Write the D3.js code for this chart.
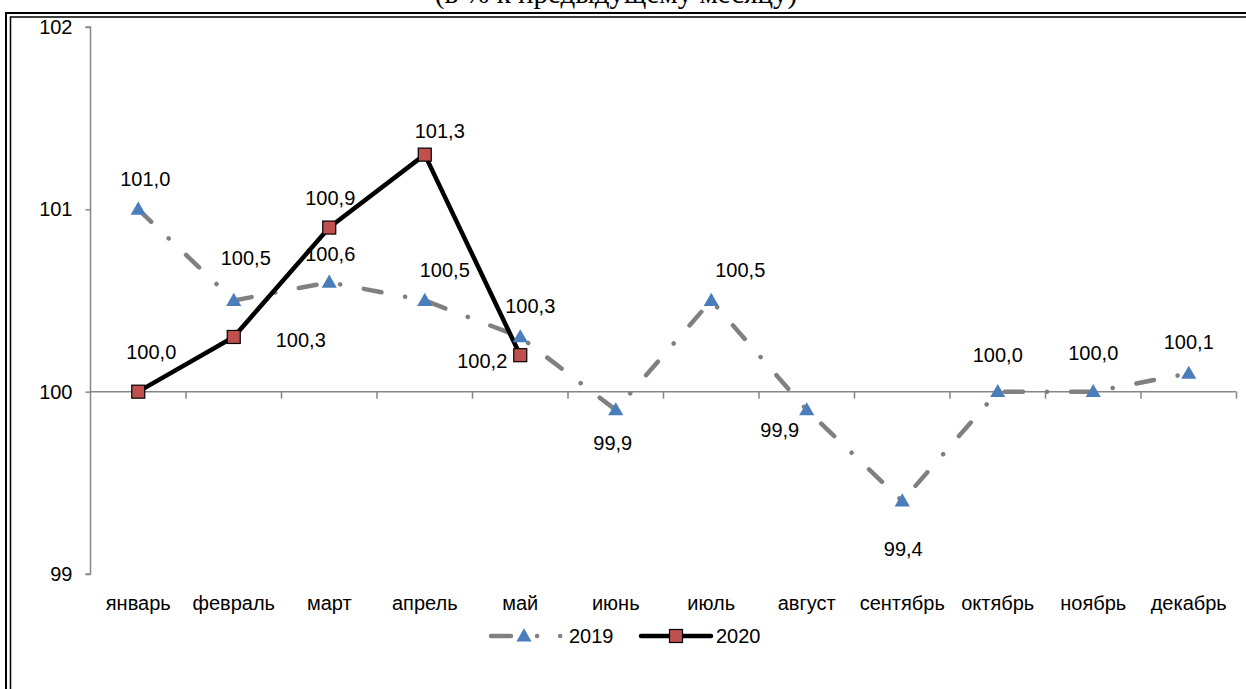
<!DOCTYPE html>
<html>
<head>
<meta charset="utf-8">
<script src="https://cdn.jsdelivr.net/npm/d3@7"></script>
<style>
  body { margin: 0; background: #fff; }
  text { font-family: "Liberation Sans", Arial, sans-serif; }
</style>
</head>
<body>
<svg id="chart" width="1246" height="689"></svg>
<script>
const months = ["январь", "февраль", "март", "апрель", "май", "июнь", "июль", "август", "сентябрь", "октябрь", "ноябрь", "декабрь"];
const values2019 = [101.0, 100.5, 100.6, 100.5, 100.3, 99.9, 100.5, 99.9, 99.4, 100.0, 100.0, 100.1];
const values2020 = [100.0, 100.3, 100.9, 101.3, 100.2];
const yTicks = [99, 100, 101, 102];

// label offsets (px) from each point, hand placed like in the original
const off2019 = [[7, -30], [12, -43], [1, -28], [20, -31], [10, -31], [-3, 33], [29, -31], [-27, 20], [1, 48], [0, -37], [0, -39], [0, -31]];
const off2020 = [[13, -40], [67, 3], [1, -30], [15, -24], [-38, 6]];

const svg = d3.select("#chart");
const fmt = v => v.toFixed(1).replace(".", ",");
const fs = "20px";

// title (cut off at top edge, as in the original)
svg.append("text")
  .attr("x", 616).attr("y", 3)
  .attr("text-anchor", "middle")
  .style("font-family", "'Liberation Serif', 'Times New Roman', serif")
  .style("font-size", "29px")
  .text("(в % к предыдущему месяцу)");

// double frame
svg.append("path").attr("d", "M6,700 V13 H1260").attr("fill", "none").attr("stroke", "#000").attr("stroke-width", 2);
svg.append("path").attr("d", "M10.5,700 V17 H1260").attr("fill", "none").attr("stroke", "#000").attr("stroke-width", 1.5);

const x = d3.scaleBand().domain(months).range([90.5, 1236.5]);
const y = d3.scaleLinear().domain([99, 102]).range([574, 27]);
const cx = m => x(m) + x.bandwidth() / 2;

const axisColor = "#868686";

// y axis
const yAxis = svg.append("g").attr("transform", "translate(90.5,0)")
  .call(d3.axisLeft(y).tickValues(yTicks).tickSize(5).tickPadding(13).tickFormat(d3.format("d")));
yAxis.select(".domain").attr("stroke", axisColor).attr("stroke-width", 1.5).attr("d", `M-5,${y(102)}H0V${y(99)}H-5`);
yAxis.selectAll(".tick line").attr("stroke", axisColor).attr("stroke-width", 1.5);
yAxis.selectAll(".tick text").style("font-size", fs).attr("fill", "#000")
  .style("font-family", "'Liberation Sans', Arial, sans-serif");

// category axis crossing at 100
const xg = svg.append("g");
xg.append("line").attr("x1", 90.5).attr("x2", 1236.5).attr("y1", y(100)).attr("y2", y(100))
  .attr("stroke", axisColor).attr("stroke-width", 1.5);
xg.selectAll("line.tk").data(months).join("line").attr("class", "tk")
  .attr("x1", d => x(d) + x.bandwidth()).attr("x2", d => x(d) + x.bandwidth())
  .attr("y1", y(100)).attr("y2", y(100) + 7)
  .attr("stroke", axisColor).attr("stroke-width", 1.5);
xg.selectAll("text").data(months).join("text")
  .attr("x", cx).attr("y", 603)
  .attr("text-anchor", "middle").attr("dominant-baseline", "central")
  .style("font-size", fs)
  .text(d => d);

const pts2019 = values2019.map((v, i) => [cx(months[i]), y(v)]);
const pts2020 = values2020.map((v, i) => [cx(months[i]), y(v)]);
const line = d3.line();

svg.append("path").attr("d", line(pts2019)).attr("fill", "none")
  .attr("stroke", "#808080").attr("stroke-width", 4.5)
  .attr("stroke-linecap", "round").attr("stroke-linejoin", "round")
  .attr("stroke-dasharray", "18,24,0.1,24");

svg.append("path").attr("d", line(pts2020)).attr("fill", "none")
  .attr("stroke", "#000").attr("stroke-width", 4.5)
  .attr("stroke-linejoin", "round");

const tri = d3.symbol().type(d3.symbolTriangle).size(100);

function drawTri(g, px, py) {
  g.append("path").attr("d", tri()).attr("transform", `translate(${px},${py + 1})`)
    .attr("fill", "#4a7ebb");
}
function drawSq(g, px, py) {
  g.append("rect").attr("x", px - 6.5).attr("y", py - 6.5).attr("width", 13).attr("height", 13)
    .attr("fill", "#c0504d").attr("stroke", "#000").attr("stroke-width", 1.2);
}

const markers = svg.append("g");
pts2019.forEach(p => drawTri(markers, p[0], p[1]));
pts2020.forEach(p => drawSq(markers, p[0], p[1]));

// data labels
const labels = svg.append("g").style("font-size", fs);
values2019.forEach((v, i) => {
  labels.append("text").attr("x", pts2019[i][0] + off2019[i][0]).attr("y", pts2019[i][1] + off2019[i][1])
    .attr("text-anchor", "middle").attr("dominant-baseline", "central").text(fmt(v));
});
values2020.forEach((v, i) => {
  labels.append("text").attr("x", pts2020[i][0] + off2020[i][0]).attr("y", pts2020[i][1] + off2020[i][1])
    .attr("text-anchor", "middle").attr("dominant-baseline", "central").text(fmt(v));
});

// legend
const lg = svg.append("g");
const ly = 636;
lg.append("line").attr("x1", 491).attr("x2", 562).attr("y1", ly).attr("y2", ly)
  .attr("stroke", "#808080").attr("stroke-width", 4.5).attr("stroke-linecap", "round")
  .attr("stroke-dasharray", "20,26,0.1,23,0.1,100");
drawTri(lg, 524, ly);
lg.append("text").attr("x", 569).attr("y", ly).attr("dominant-baseline", "central")
  .style("font-size", fs).text("2019");
lg.append("line").attr("x1", 641).attr("x2", 711).attr("y1", ly).attr("y2", ly)
  .attr("stroke", "#000").attr("stroke-width", 4.5).attr("stroke-linecap", "round");
drawSq(lg, 676, ly);
lg.append("text").attr("x", 716).attr("y", ly).attr("dominant-baseline", "central")
  .style("font-size", fs).text("2020");
</script>
</body>
</html>
